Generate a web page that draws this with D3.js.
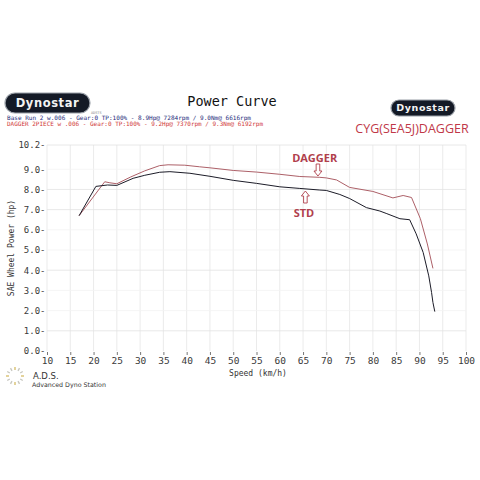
<!DOCTYPE html>
<html><head><meta charset="utf-8">
<script src="https://cdn.jsdelivr.net/npm/d3@7"></script>
<style>
html,body{margin:0;padding:0;background:#fff;}
svg{display:block;}
</style></head>
<body>
<svg id="c" width="480" height="480"></svg>
<script>
// ---- data ----
const stdSpeed = [16.9, 20.5, 23, 25, 28.5, 31, 34.2, 36.4, 40.7, 45, 50, 55, 60, 64.3, 68.6, 70, 72.9, 75, 78.6, 81.5, 83, 85.8, 87.9, 89.3, 90.8, 92.0, 92.6, 92.9, 93.3];
const stdPower = [6.7, 8.15, 8.22, 8.2, 8.55, 8.7, 8.85, 8.88, 8.8, 8.65, 8.45, 8.3, 8.13, 8.05, 7.97, 7.95, 7.75, 7.55, 7.1, 6.93, 6.8, 6.55, 6.5, 5.8, 4.88, 3.72, 2.9, 2.4, 1.95];
const dagSpeed = [16.9, 22.4, 23.5, 25, 28, 31, 34.2, 36, 39.6, 42.8, 45, 50, 55, 60, 64.3, 68.6, 70, 72.2, 75, 80, 84.3, 86.5, 88.3, 90.2, 91.7, 92.9];
const dagPower = [6.7, 8.38, 8.33, 8.28, 8.62, 8.92, 9.18, 9.22, 9.2, 9.12, 9.07, 8.94, 8.86, 8.75, 8.64, 8.6, 8.57, 8.47, 8.1, 7.9, 7.58, 7.7, 7.6, 6.55, 5.3, 4.09];
const xTicks = [10,15,20,25,30,35,40,45,50,55,60,65,70,75,80,85,90,95,100];
const yTicks = [0,1,2,3,4,5,6,7,8,9,10.2];
const yGridStrong = [1,4,7,8,10.2];
const headerLines = [
  "Base Run 2 w.006 - Gear:0 TP:100%   - 8.9Hp@ 7284rpm / 9.0Nm@ 6616rpm",
  "DAGGER 2PIECE w .006 - Gear:0 TP:100%   - 9.2Hp@ 7370rpm / 9.3Nm@ 6192rpm"
];

const svg = d3.select("#c");
const x = d3.scaleLinear().domain([10,100]).range([47,466]);
const y = d3.scaleLinear().domain([0,10.2]).range([351,145]);
const mono = "'DejaVu Sans Mono', monospace";

// grid
const g = svg.append("g");
g.selectAll("line.v").data(xTicks).join("line")
  .attr("x1", d=>x(d)).attr("x2", d=>x(d)).attr("y1", y(10.2)).attr("y2", y(0))
  .attr("stroke", "#e6e6e6").attr("stroke-width", 0.8);
g.selectAll("line.h").data(yTicks.filter(d=>d>0)).join("line")
  .attr("x1", x(10)).attr("x2", x(100)).attr("y1", d=>y(d)).attr("y2", d=>y(d))
  .attr("stroke", d=> yGridStrong.includes(d) ? "#e2e2e2" : "#f2f2f2").attr("stroke-width", 0.8);

// axes
const ya = svg.append("g").attr("transform", `translate(${x(10)-1.5},0)`)
  .call(d3.axisLeft(y).tickValues(yTicks).tickSize(0).tickPadding(0).tickFormat(d=>d.toFixed(1)+"-"));
ya.select(".domain").remove();
ya.selectAll("text").attr("font-family", mono).attr("font-size", 9).attr("fill", "#3a3a3a");

const xa = svg.append("g").attr("transform", `translate(0,${y(0)+1})`)
  .call(d3.axisBottom(x).tickValues(xTicks).tickSize(3).tickPadding(2).tickFormat(d3.format("d")));
xa.select(".domain").remove();
xa.selectAll("line").attr("stroke", "#777");
xa.selectAll("text").attr("font-family", mono).attr("font-size", 9.5).attr("fill", "#3a3a3a");

// axis titles
svg.append("text").attr("x", 258).attr("y", 376).attr("text-anchor","middle")
  .attr("font-family", mono).attr("font-size", 8).attr("fill","#333").text("Speed (km/h)");
svg.append("text").attr("transform","translate(14,248) rotate(-90)").attr("text-anchor","middle")
  .attr("font-family", mono).attr("font-size", 8).attr("fill","#333").text("SAE Wheel Power (hp)");

// lines
const line = d3.line().x(d=>x(d[0])).y(d=>y(d[1]));
svg.append("path").datum(d3.zip(dagSpeed, dagPower)).attr("d", line)
  .attr("fill","none").attr("stroke","#ad6068").attr("stroke-width",1);
svg.append("path").datum(d3.zip(stdSpeed, stdPower)).attr("d", line)
  .attr("fill","none").attr("stroke","#1c1c28").attr("stroke-width",1);

// annotations
const ann = "#b0404c";
svg.append("text").attr("x", x(67.5)).attr("y", 162).attr("text-anchor","middle")
  .attr("font-family","'Open Sans', sans-serif").attr("font-weight","bold").attr("font-size",11)
  .attr("fill", ann).text("DAGGER");
svg.append("text").attr("x", x(65.2)).attr("y", 217).attr("text-anchor","middle")
  .attr("font-family","'Open Sans', sans-serif").attr("font-weight","bold").attr("font-size",11)
  .attr("fill", ann).text("STD");
function arrow(cx, tipY, dir){ // dir 1 = down, -1 = up
  const b = tipY - dir*12, m = tipY - dir*5;
  const p = [[cx-1.8,b],[cx+1.8,b],[cx+1.8,m],[cx+4,m],[cx,tipY],[cx-4,m],[cx-1.8,m]];
  svg.append("path").attr("d", "M"+p.map(q=>q.join(",")).join("L")+"Z")
    .attr("fill","#fff").attr("stroke", ann).attr("stroke-width",0.9);
}
arrow(x(68.2), 176, 1);
arrow(x(65.5), 191, -1);

// title and header
svg.append("text").attr("x", 232).attr("y", 106).attr("text-anchor","middle")
  .attr("font-family", mono).attr("font-size", 13.5).attr("fill","#111").text("Power Curve");
svg.append("text").attr("x", 7).attr("y", 119.5).attr("font-family", mono).attr("font-size", 6)
  .attr("textLength", 244).attr("lengthAdjust","spacingAndGlyphs")
  .attr("fill","#1e2a7a").text(headerLines[0]);
svg.append("text").attr("x", 7).attr("y", 125.5).attr("font-family", mono).attr("font-size", 6)
  .attr("textLength", 256).attr("lengthAdjust","spacingAndGlyphs")
  .attr("fill","#d03838").text(headerLines[1]);

// logos
function logo(x0, y0, w, h, fs){
  svg.append("rect").attr("x",x0).attr("y",y0).attr("width",w).attr("height",h).attr("rx",h/2)
    .attr("fill","#141a26").attr("stroke","#9aa0a8").attr("stroke-width",1.2);
  svg.append("text").attr("x", x0+w/2).attr("y", y0+h/2+fs*0.36).attr("text-anchor","middle")
    .attr("font-family","'DejaVu Sans', sans-serif").attr("font-weight","bold").attr("font-size",fs)
    .attr("letter-spacing",0.6).attr("fill","#f4f4f4").text("Dynostar");
}
logo(5, 93, 85, 20, 11.5);
svg.append("text").attr("x", 91).attr("y", 114).attr("font-family", mono).attr("font-size", 3.5)
  .attr("fill","#888").text("ADSTS");
logo(391, 100, 64, 16, 9.5);
svg.append("text").attr("x", 412).attr("y", 133).attr("text-anchor","middle")
  .attr("font-family","'Open Sans', sans-serif").attr("font-size",12.5).attr("fill","#c03848")
  .text("CYG(SEA5J)DAGGER");

// A.D.S. logo
const ads = svg.append("g").attr("transform","translate(15,376)");
d3.range(12).forEach(i=>{
  const a = i/12*2*Math.PI;
  ads.append("line").attr("x1", Math.cos(a)*6).attr("y1", Math.sin(a)*6)
    .attr("x2", Math.cos(a)*9).attr("y2", Math.sin(a)*9)
    .attr("stroke", i%3===0 ? "#d8c070" : "#c8c8c0").attr("stroke-width",1.4);
});
svg.append("text").attr("x", 33).attr("y", 379).attr("font-family","'DejaVu Sans', sans-serif")
  .attr("font-size", 8.5).attr("fill","#333").text("A.D.S.");
svg.append("text").attr("x", 32).attr("y", 387).attr("font-family","'DejaVu Sans', sans-serif")
  .attr("font-size", 6.3).attr("fill","#333").text("Advanced Dyno Station");
</script>
</body></html>
